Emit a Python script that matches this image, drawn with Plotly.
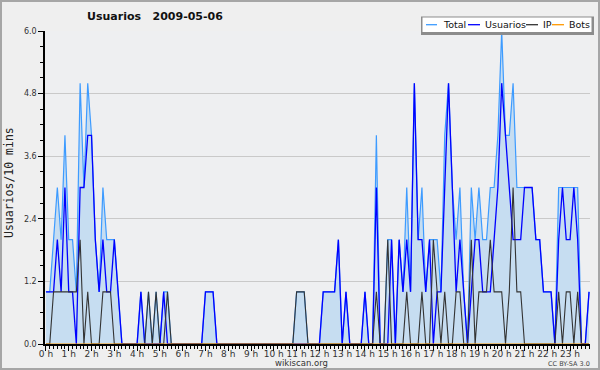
import plotly.graph_objects as go

# ---------------- data (10-minute slots, 0 h .. 23 h 50) ----------------
hours = list(range(24))
hour_labels = [f"{h} h" for h in hours]
slots = list(range(144))

total = [
    1, 1, 2, 3, 2, 4, 2, 2, 1, 5, 3, 5, 4, 2, 1, 3, 2, 2, 2, 1, 0, 0, 0, 0,
    0, 1, 0, 1, 0, 1, 0, 1, 1, 0, 0, 0, 0, 0, 0, 0, 0, 0, 1, 1, 1, 0, 0, 0,
    0, 0, 0, 0, 0, 0, 0, 0, 0, 0, 0, 0, 0, 0, 0, 0, 0, 0, 1, 1, 1, 0, 0, 0,
    0, 1, 1, 1, 1, 2, 0, 1, 0, 0, 0, 0, 1, 0, 0, 4, 0, 0, 2, 2, 0, 2, 1, 3,
    1, 5, 2, 3, 1, 2, 2, 2, 1, 4, 5, 3, 2, 3, 1, 0, 3, 2, 3, 2, 2, 3, 3, 4,
    6, 4, 4, 5, 3, 3, 3, 3, 3, 2, 2, 1, 1, 1, 0, 3, 3, 3, 3, 3, 3, 0, 0, 1,
]
usuarios = [
    1, 1, 1, 2, 1, 3, 1, 1, 0, 3, 3, 4, 4, 2, 1, 2, 1, 1, 2, 1, 0, 0, 0, 0,
    0, 1, 0, 0, 0, 0, 0, 1, 0, 0, 0, 0, 0, 0, 0, 0, 0, 0, 1, 1, 1, 0, 0, 0,
    0, 0, 0, 0, 0, 0, 0, 0, 0, 0, 0, 0, 0, 0, 0, 0, 0, 0, 0, 0, 0, 0, 0, 0,
    0, 1, 1, 1, 1, 2, 0, 1, 0, 0, 0, 0, 1, 0, 0, 3, 0, 0, 0, 2, 0, 2, 1, 2,
    1, 5, 2, 2, 1, 2, 0, 1, 1, 3, 5, 3, 1, 2, 1, 0, 1, 2, 2, 1, 1, 1, 2, 3,
    5, 4, 3, 2, 2, 2, 3, 3, 3, 2, 2, 1, 1, 1, 0, 2, 3, 2, 2, 3, 2, 0, 0, 1,
]
ip = [
    0, 0, 1, 1, 1, 1, 1, 1, 1, 2, 0, 1, 0, 0, 0, 1, 1, 1, 0, 0, 0, 0, 0, 0,
    0, 0, 0, 1, 0, 1, 0, 0, 1, 0, 0, 0, 0, 0, 0, 0, 0, 0, 0, 0, 0, 0, 0, 0,
    0, 0, 0, 0, 0, 0, 0, 0, 0, 0, 0, 0, 0, 0, 0, 0, 0, 0, 1, 1, 1, 0, 0, 0,
    0, 0, 0, 0, 0, 0, 0, 0, 0, 0, 0, 0, 0, 0, 0, 1, 0, 0, 2, 0, 0, 0, 0, 1,
    0, 0, 0, 1, 0, 0, 2, 1, 0, 1, 0, 0, 1, 1, 0, 0, 2, 0, 1, 1, 1, 2, 1, 1,
    1, 0, 1, 3, 1, 1, 0, 0, 0, 0, 0, 0, 0, 0, 0, 1, 0, 1, 1, 0, 1, 0, 0, 0,
]
bots = [
    0, 0, 0, 0, 0, 0, 0, 0, 0, 0, 0, 0, 0, 0, 0, 0, 0, 0, 0, 0, 0, 0, 0, 0,
    0, 0, 0, 0, 0, 0, 0, 0, 0, 0, 0, 0, 0, 0, 0, 0, 0, 0, 0, 0, 0, 0, 0, 0,
    0, 0, 0, 0, 0, 0, 0, 0, 0, 0, 0, 0, 0, 0, 0, 0, 0, 0, 0, 0, 0, 0, 0, 0,
    0, 0, 0, 0, 0, 0, 0, 0, 0, 0, 0, 0, 0, 0, 0, 0, 0, 0, 0, 0, 0, 0, 0, 0,
    0, 0, 0, 0, 0, 0, 0, 0, 0, 0, 0, 0, 0, 0, 0, 0, 0, 0, 0, 0, 0, 0, 0, 0,
    0, 0, 0, 0, 0, 0, 0, 0, 0, 0, 0, 0, 0, 0, 0, 0, 0, 0, 0, 0, 0, 0, 0, 0,
]
y_ticks = [0.0, 1.2, 2.4, 3.6, 4.8, 6.0]
series_names = ["Total", "Usuarios", "IP", "Bots"]
series_colors = ["#3d9bff", "#0000ff", "#333333", "#ff9900"]

# ---------------- layout helpers ----------------
W, H = 600, 370
ML, MR, MT, MB = 45, 10, 31, 26
PW, PH = W - ML - MR, H - MT - MB


def px(x):
    return (x - ML) / PW


def py(y):
    return (H - MB - y) / PH


FONT = "DejaVu Sans"

fig = go.Figure()
fig.add_trace(go.Scatter(x=slots, y=total, mode="lines", name=series_names[0],
                         line=dict(color=series_colors[0], width=1.2),
                         fill="tozeroy", fillcolor="#c6ddf1"))
fig.add_trace(go.Scatter(x=slots, y=usuarios, mode="lines", name=series_names[1],
                         line=dict(color=series_colors[1], width=1.3)))
fig.add_trace(go.Scatter(x=slots, y=ip, mode="lines", name=series_names[2],
                         line=dict(color=series_colors[2], width=1.1)))
fig.add_trace(go.Scatter(x=slots, y=bots, mode="lines", name=series_names[3],
                         line=dict(color=series_colors[3], width=1.1)))

shapes = []
annotations = []

# outer border of the image
shapes.append(dict(type="rect", xref="paper", yref="paper",
                   x0=px(1), x1=px(599), y0=py(369), y1=py(1),
                   line=dict(color="#a6a6a6", width=2), layer="below"))

# legend box (frame + shadow)
shapes.append(dict(type="rect", xref="paper", yref="paper",
                   x0=px(421), x1=px(594), y0=py(35), y1=py(16.5),
                   line=dict(width=0), fillcolor="#8c8c8c", layer="above"))
shapes.append(dict(type="rect", xref="paper", yref="paper",
                   x0=px(422.5), x1=px(591.5), y0=py(32), y1=py(17.5),
                   line=dict(width=0), fillcolor="#ffffff", layer="above"))

leg_lines = [(426, 437), (468, 480), (526, 538), (552, 564)]
leg_text_x = [441, 483, 541, 567]
for (x0, x1), tx, name, col in zip(leg_lines, leg_text_x, series_names, series_colors):
    shapes.append(dict(type="line", xref="paper", yref="paper",
                       x0=px(x0), x1=px(x1), y0=py(24.7), y1=py(24.7),
                       line=dict(color=col, width=1.3), layer="above"))
    annotations.append(dict(xref="paper", yref="paper", x=px(tx), y=py(24.7),
                            xanchor="left", yanchor="middle", showarrow=False,
                            text=name, font=dict(family=FONT, size=9.5, color="#111")))

# title
annotations.append(dict(xref="paper", yref="paper", x=px(85), y=py(16.5),
                        xanchor="left", yanchor="middle", showarrow=False,
                        text="<b>Usuarios\u00a0\u00a0 2009-05-06</b>",
                        font=dict(family=FONT, size=11, color="#111")))
# y-axis title
annotations.append(dict(xref="paper", yref="paper", x=px(9), y=py(183),
                        xanchor="center", yanchor="middle", showarrow=False,
                        textangle=-90, text="Usuarios/10 mins",
                        font=dict(family="DejaVu Sans Mono", size=11.5, color="#222")))
# footer
annotations.append(dict(xref="paper", yref="paper", x=px(301), y=py(363),
                        xanchor="center", yanchor="middle", showarrow=False,
                        text="wikiscan.org",
                        font=dict(family=FONT, size=8.5, color="#333")))
annotations.append(dict(xref="paper", yref="paper", x=px(569), y=py(363.5),
                        xanchor="center", yanchor="middle", showarrow=False,
                        text="CC BY-SA 3.0",
                        font=dict(family=FONT, size=6.5, color="#444")))

fig.update_layout(
    width=W, height=H,
    margin=dict(l=ML, r=MR, t=MT, b=MB, pad=0, autoexpand=False),
    paper_bgcolor="#efefef",
    plot_bgcolor="#eeeff1",
    showlegend=False,
    shapes=shapes,
    annotations=annotations,
    xaxis=dict(
        range=[-0.25, 143.25], automargin=False,
        tickmode="array", tickvals=[h * 6 for h in hours], ticktext=hour_labels,
        ticks="outside", ticklen=5, tickwidth=1, tickcolor="black",
        ticklabelstandoff=-5,
        showline=True, linecolor="black", linewidth=2,
        showgrid=False, zeroline=False,
        tickfont=dict(family=FONT, size=9, color="#333"),
        minor=dict(tickmode="linear", tick0=0, dtick=1, ticks="outside",
                   ticklen=3, tickwidth=1, tickcolor="black", showgrid=False),
        fixedrange=True,
    ),
    yaxis=dict(
        range=[0, 6], automargin=False,
        tickmode="array", tickvals=y_ticks, ticktext=[f"{v:.1f}" for v in y_ticks],
        ticks="outside", ticklen=5, tickwidth=1, tickcolor="black",
        showline=True, linecolor="black", linewidth=1.5,
        showgrid=True, gridcolor="#c9c9c9", gridwidth=1, zeroline=False,
        tickfont=dict(family=FONT, size=8, color="#333"),
        minor=dict(tickmode="linear", tick0=0, dtick=0.3, ticks="outside",
                   ticklen=3, tickwidth=1, tickcolor="black", showgrid=False),
        fixedrange=True,
    ),
)

fig.write_html("out.html", config={"displayModeBar": False})
